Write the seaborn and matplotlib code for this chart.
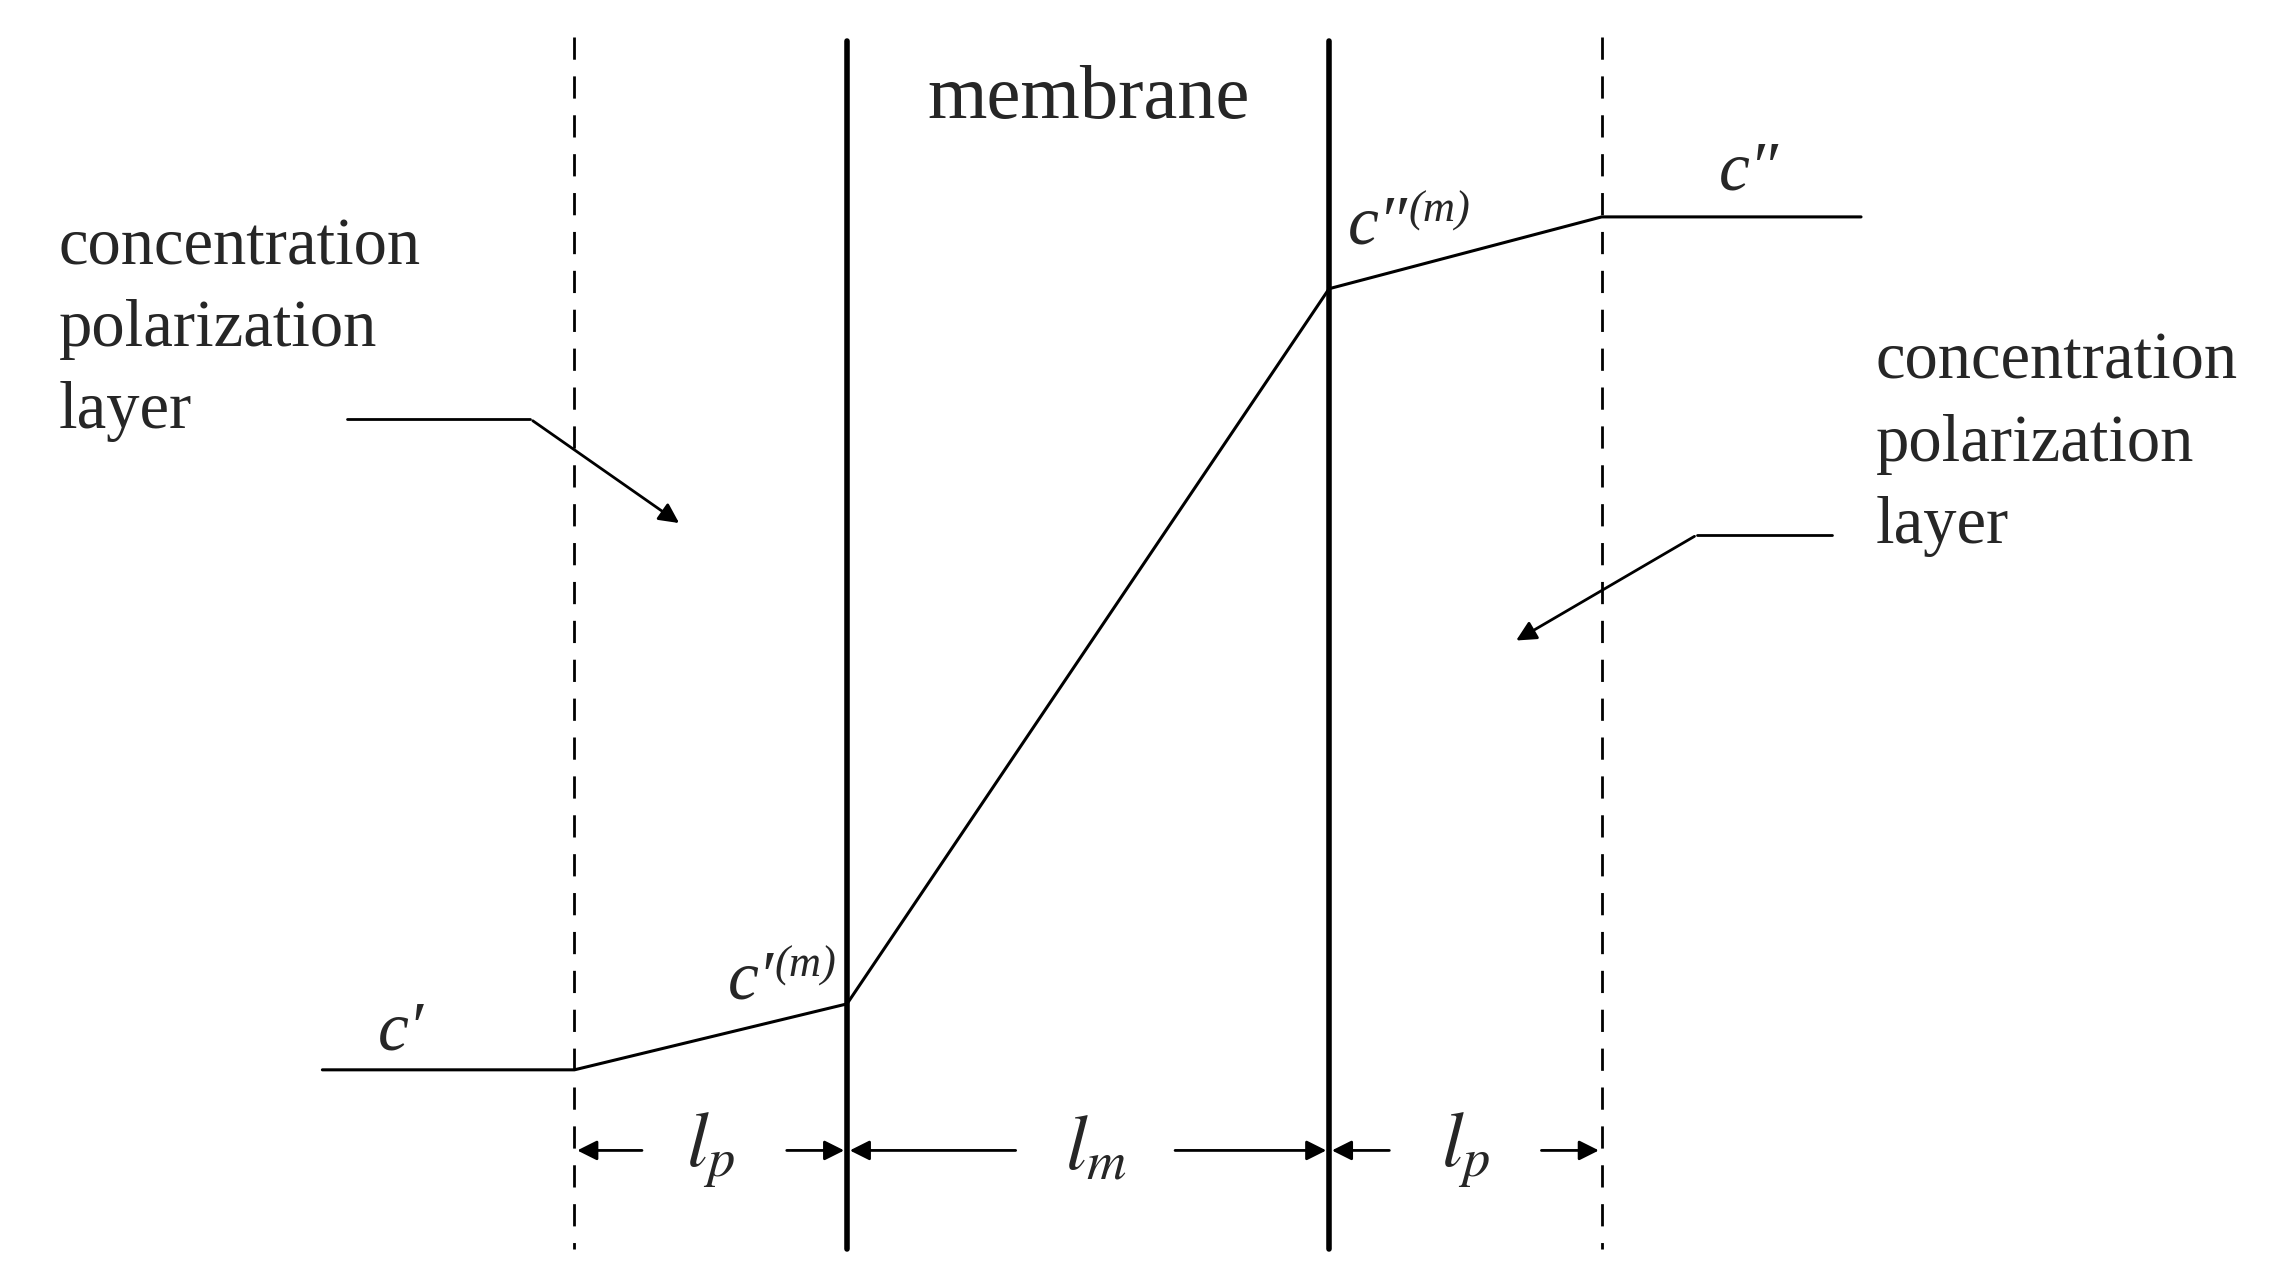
import matplotlib
matplotlib.use("Agg")
import matplotlib.pyplot as plt
import seaborn as sns
import pandas as pd

sns.set_theme(style="white")
plt.rcParams['font.family'] = ['Liberation Serif', 'DejaVu Serif']
plt.rcParams['mathtext.fontset'] = 'stix'

# concentration profile (diagram units)
profile_x = [220, 392, 578, 907, 1093, 1270]
profile_y = [730, 730, 685, 197, 148, 148]
dashed_x = [392, 1093]
membrane_x = [578, 907]
dim_y = 785
dim_segments = [(440, 392), (535, 578), (695, 578), (800, 907), (950, 907), (1050, 1093)]
dim_labels = [(485, r'$l_p$'), (748, r'$l_m$'), (1000, r'$l_p$')]
# (x, y, base, superscript)
conc_labels = [(258, 705, "c\u2032", ""), (497, 670, "c\u2032", "(m)"),
               (920, 155, "c\u2033", "(m)"), (1173, 118, "c\u2033", "")]

fig = plt.figure(figsize=(22.86, 12.75), dpi=100)
ax = fig.add_axes([0, 0, 1, 1])
ax.set_xlim(0, 1560)
ax.set_ylim(870, 0)
ax.axis('off')

df = pd.DataFrame({'x': profile_x, 'y': profile_y})
sns.lineplot(data=df, x='x', y='y', ax=ax, color='black', lw=2.2, sort=False)

for x in dashed_x:
    ax.plot([x, x], [25, 852], color='black', lw=2, ls=(0, (8, 6)))
for x in membrane_x:
    ax.plot([x, x], [28, 852], color='black', lw=4)

for x0, x1 in dim_segments:
    ax.annotate('', xy=(x1, dim_y), xytext=(x0, dim_y),
                arrowprops=dict(arrowstyle='-|>', color='black', lw=2, mutation_scale=30))
for x, t in dim_labels:
    ax.text(x, dim_y, t, fontsize=56, ha='center', va='center')

for x, y, base, sup in conc_labels:
    t = ax.text(x, y, base, fontsize=50, style='italic', ha='left', va='center')
    if sup:
        ax.annotate(sup, xy=(1, 0.75), xycoords=t, fontsize=32, style='italic',
                    ha='left', va='center')

ax.text(743, 68, 'membrane', fontsize=55, ha='center', va='center')
ax.text(40, 225, 'concentration\npolarization\nlayer', fontsize=48, ha='left', va='center', linespacing=1.45)
ax.text(1280, 303, 'concentration\npolarization\nlayer', fontsize=48, ha='left', va='center', linespacing=1.45)

ax.plot([237, 362], [286, 286], color='black', lw=2)
ax.annotate('', xy=(465, 358), xytext=(362, 286),
            arrowprops=dict(arrowstyle='-|>', color='black', lw=2, mutation_scale=30))
ax.plot([1250, 1158], [365, 365], color='black', lw=2)
ax.annotate('', xy=(1033, 438), xytext=(1158, 365),
            arrowprops=dict(arrowstyle='-|>', color='black', lw=2, mutation_scale=30))

fig.savefig('out.png', dpi=100, facecolor='white')
